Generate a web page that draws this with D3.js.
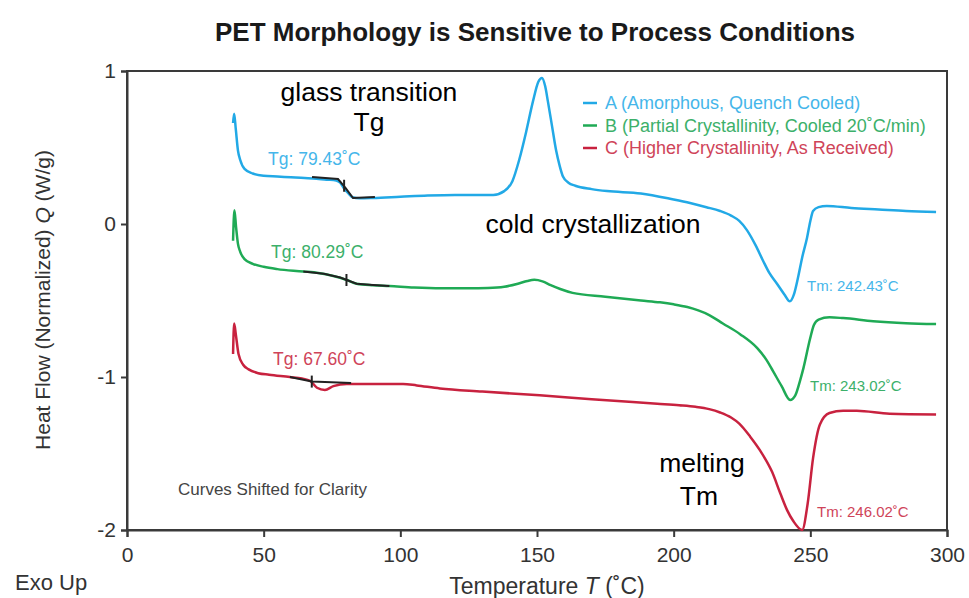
<!DOCTYPE html>
<html>
<head>
<meta charset="utf-8">
<script src="https://cdn.jsdelivr.net/npm/d3@7"></script>
<style>
  body { margin: 0; background: #fff; }
  text { font-family: "Liberation Sans", Arial, sans-serif; }
</style>
</head>
<body>
<div id="dsc_chart"></div>
<script>
// curves: [temperature, heat flow]
const curveA = [[38.8, 0.66], [39.2, 0.72], [39.8, 0.62], [40.6, 0.48], [41.4, 0.42], [43, 0.36], [46, 0.33], [50, 0.315],
  [55, 0.31], [60, 0.305], [65, 0.3], [68, 0.298], [73, 0.29], [76.5, 0.285], [78, 0.27], [79.5, 0.23], [81, 0.2],
  [82.5, 0.175], [85, 0.168], [90, 0.17], [100, 0.178], [110, 0.186], [120, 0.19], [128, 0.19], [134, 0.19], [138, 0.215],
  [141, 0.28], [143.5, 0.42], [146, 0.6], [148.5, 0.8], [150.5, 0.93], [151.8, 0.955], [153, 0.9], [154, 0.8],
  [155.5, 0.64], [157, 0.48], [158.3, 0.38], [159.5, 0.31], [161.5, 0.27], [164, 0.25], [170, 0.228], [175.6, 0.215],
  [188, 0.2], [200, 0.16], [206, 0.137], [212, 0.11], [217, 0.085], [221, 0.055], [224, 0.02], [226.8, -0.04],
  [230, -0.14], [232.7, -0.24], [235, -0.32], [237.8, -0.39], [240.5, -0.46], [242.5, -0.505], [244, -0.46],
  [245.5, -0.35], [247, -0.22], [248.8, -0.09], [250, 0.02], [251, 0.085], [253, 0.11], [256, 0.118], [265, 0.105],
  [275, 0.095], [285, 0.085], [296, 0.078]];

const curveB = [[38.8, -0.11], [39.3, 0.09], [39.9, -0.02], [40.6, -0.13], [41.4, -0.18], [43, -0.23], [46, -0.26],
  [50, -0.28], [55, -0.295], [64.5, -0.31], [70, -0.32], [75.5, -0.34], [80.4, -0.366], [84, -0.39], [90, -0.4],
  [96, -0.405], [105, -0.415], [115, -0.42], [125, -0.42], [132, -0.418], [138, -0.41], [143, -0.39], [146.5, -0.372],
  [149, -0.365], [152, -0.375], [155, -0.4], [158.5, -0.425], [163, -0.45], [175, -0.475], [188, -0.5], [195, -0.512],
  [200, -0.525], [205, -0.543], [209, -0.565], [213, -0.595], [218, -0.65], [224.3, -0.72], [230.5, -0.81],
  [234, -0.89], [236.3, -0.96], [239.5, -1.06], [242.6, -1.15], [244.5, -1.12], [246.3, -1.02], [247.5, -0.94],
  [249.9, -0.75], [251.3, -0.66], [253, -0.625], [257, -0.61], [262, -0.615], [273, -0.635], [285, -0.648],
  [296, -0.654]];

const curveC = [[38.8, -0.85], [39.2, -0.65], [39.8, -0.72], [40.8, -0.85], [42.5, -0.92], [44.5, -0.95], [48, -0.975],
  [52, -0.985], [59.6, -1.0], [64, -1.01], [67, -1.025], [69.5, -1.07], [72.4, -1.085], [75.5, -1.06], [80.4, -1.045],
  [90, -1.045], [101, -1.045], [106, -1.055], [114.5, -1.075], [130, -1.095], [151, -1.12], [170, -1.145],
  [194, -1.175], [202, -1.185], [208, -1.195], [213, -1.21], [217, -1.232], [221, -1.265], [224, -1.305], [228, -1.39],
  [231.6, -1.48], [236, -1.62], [239, -1.76], [241.5, -1.87], [243.7, -1.94], [247, -2.0], [249, -1.83], [251, -1.53],
  [253.5, -1.31], [257, -1.235], [262, -1.22], [267, -1.22], [279, -1.24], [296, -1.245]];

// tangent construction lines at the glass transition
const tangentA = [[67.7, 0.307], [77.2, 0.294], [80, 0.235], [82.7, 0.17], [90.7, 0.176]];
const tangentB = [[64.5, -0.31], [72, -0.325], [78, -0.35], [80.4, -0.366], [84, -0.39], [90, -0.398], [96, -0.405]];
const tangentC = [[59.6, -1.0], [67.6, -1.03], [82, -1.04]];

const tgValues = [79.43, 80.29, 67.60];
const tgLevels = [0.25, -0.366, -1.03];
const tmValues = [242.43, 243.02, 246.02];

const seriesNames = ["A (Amorphous, Quench Cooled)", "B (Partial Crystallinity, Cooled 20˚C/min)", "C (Higher Crystallinity, As Received)"];
const seriesColors = ["#22a9e6", "#1faa55", "#c8223f"];
const labelColors = ["#45b6ea", "#3cb06a", "#cf4459"];

const xTicks = [0, 50, 100, 150, 200, 250, 300];
const yTicks = [1, 0, -1, -2];

const margin = {top: 71, right: 22, bottom: 68, left: 127},
    width = 969 - margin.left - margin.right,
    height = 598 - margin.top - margin.bottom;

const svg = d3.select("#dsc_chart")
    .append("svg")
    .attr("width", 969)
    .attr("height", 598);

const g = svg.append("g")
    .attr("transform", `translate(${margin.left},${margin.top})`);

const x = d3.scaleLinear().domain([0, 300]).range([0, width]);
const y = d3.scaleLinear().domain([-2, 1]).range([height, 0]);

// title
svg.append("text")
    .attr("x", 535)
    .attr("y", 41)
    .attr("text-anchor", "middle")
    .style("font-size", "26px")
    .style("font-weight", "bold")
    .style("fill", "#1a1a1a")
    .text("PET Morphology is Sensitive to Process Conditions");

// frame
g.append("rect")
    .attr("width", width)
    .attr("height", height)
    .attr("fill", "none")
    .attr("stroke", "#3a3a3a")
    .attr("stroke-width", 2);

// axes
const xAxis = g.append("g")
    .attr("transform", `translate(0, ${height})`)
    .call(d3.axisBottom(x).tickValues(xTicks).tickSize(7).tickPadding(10));
const yAxis = g.append("g")
    .call(d3.axisLeft(y).tickValues(yTicks).tickFormat(d => String(d)).tickSize(6).tickPadding(5));

[xAxis, yAxis].forEach(a => {
    a.select(".domain").attr("stroke", "#3a3a3a").attr("stroke-width", 2);
    a.selectAll(".tick line").attr("stroke", "#3a3a3a").attr("stroke-width", 2);
    a.selectAll(".tick text")
        .style("font-family", "'Liberation Sans', Arial, sans-serif")
        .style("font-size", "21px")
        .attr("fill", "#333");
});

// axis titles
const xTitle = svg.append("text")
    .attr("x", 547)
    .attr("y", 594)
    .attr("text-anchor", "middle")
    .style("font-size", "23px")
    .style("fill", "#333");
xTitle.append("tspan").text("Temperature ");
xTitle.append("tspan").style("font-style", "italic").text("T");
xTitle.append("tspan").text(" (˚C)");

const yTitle = svg.append("text")
    .attr("transform", "translate(50, 300) rotate(-90)")
    .attr("text-anchor", "middle")
    .style("font-size", "21px")
    .style("fill", "#333");
yTitle.append("tspan").text("Heat Flow (Normalized) ");
yTitle.append("tspan").style("font-style", "italic").text("Q");
yTitle.append("tspan").text(" (W/g)");

svg.append("text")
    .attr("x", 15)
    .attr("y", 590)
    .style("font-size", "22px")
    .style("fill", "#333")
    .text("Exo Up");

// curves
const line = d3.line()
    .x(d => x(d[0]))
    .y(d => y(d[1]))
    .curve(d3.curveMonotoneX);

[curveA, curveB, curveC].forEach((c, i) => {
    g.append("path")
        .datum(c)
        .attr("d", line)
        .attr("fill", "none")
        .attr("stroke", seriesColors[i])
        .attr("stroke-width", 2.5)
        .attr("stroke-linejoin", "round");
});

const straight = d3.line().x(d => x(d[0])).y(d => y(d[1]));
[tangentA, tangentB, tangentC].forEach((t, i) => {
    g.append("path")
        .datum(t)
        .attr("d", straight)
        .attr("fill", "none")
        .attr("stroke", "#222")
        .attr("stroke-width", 2);
    // cross mark at Tg
    g.append("line")
        .attr("x1", x(tgValues[i])).attr("x2", x(tgValues[i]))
        .attr("y1", y(tgLevels[i]) - 6).attr("y2", y(tgLevels[i]) + 6)
        .attr("stroke", "#222")
        .attr("stroke-width", 2);
});

// Tg and Tm labels
const tgPos = [[268, 165], [271, 258], [273, 365]];
tgValues.forEach((v, i) => {
    svg.append("text")
        .attr("x", tgPos[i][0])
        .attr("y", tgPos[i][1])
        .style("font-size", "17.5px")
        .style("fill", labelColors[i])
        .text(`Tg: ${v.toFixed(2)}˚C`);
});
const tmPos = [[807, 291], [810, 391], [817, 517]];
tmValues.forEach((v, i) => {
    svg.append("text")
        .attr("x", tmPos[i][0])
        .attr("y", tmPos[i][1])
        .style("font-size", "15px")
        .style("fill", labelColors[i])
        .text(`Tm: ${v.toFixed(2)}˚C`);
});

// legend
seriesNames.forEach((n, i) => {
    const yy = 109 + i * 22.5;
    svg.append("line")
        .attr("x1", 583).attr("x2", 597)
        .attr("y1", yy - 6).attr("y2", yy - 6)
        .attr("stroke", seriesColors[i])
        .attr("stroke-width", 2.5);
    svg.append("text")
        .attr("x", 605)
        .attr("y", yy)
        .style("font-size", "18px")
        .style("fill", labelColors[i])
        .text(n);
});

svg.append("text")
    .attr("x", 178)
    .attr("y", 495)
    .style("font-size", "17px")
    .style("fill", "#444")
    .text("Curves Shifted for Clarity");

// annotations
const notes = [
    {t: "glass transition", x: 369, y: 101},
    {t: "Tg", x: 369, y: 131},
    {t: "cold crystallization", x: 593, y: 233},
    {t: "melting", x: 702, y: 472},
    {t: "Tm", x: 699, y: 505}
];
notes.forEach(d => {
    svg.append("text")
        .attr("x", d.x)
        .attr("y", d.y)
        .attr("text-anchor", "middle")
        .style("font-size", "26.5px")
        .style("fill", "#000")
        .text(d.t);
});
</script>
</body>
</html>
